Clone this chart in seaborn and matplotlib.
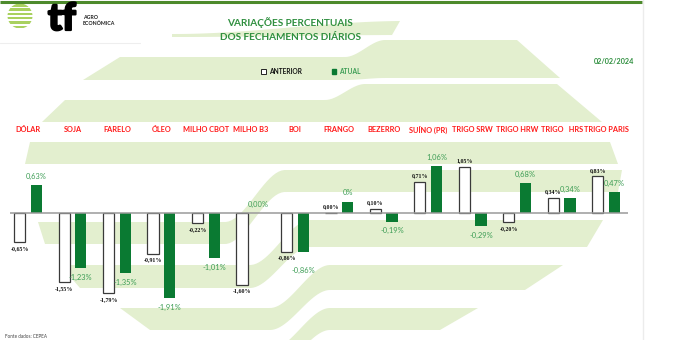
import numpy as np
import pandas as pd
import matplotlib
matplotlib.use("Agg")
import matplotlib.pyplot as plt
import matplotlib.transforms as mtransforms
import matplotlib.patheffects as pe
from matplotlib.patches import Patch, Circle, Polygon, Rectangle
import seaborn as sns

# ---------------- data ----------------
categories = ["DÓLAR", "SOJA", "FARELO", "ÓLEO", "MILHO CBOT", "MILHO B3", "BOI",
              "FRANGO", "BEZERRO", "SUÍNO (PR)", "TRIGO SRW", "TRIGO HRW",
              "TRIGO   HRS", "TRIGO PARIS"]
anterior = [-0.65, -1.55, -1.79, -0.91, -0.22, -1.60, -0.86,
            0.00, 0.10, 0.71, 1.05, -0.20, 0.34, 0.83]
atual = [0.63, -1.23, -1.35, -1.91, -1.01, 0.00, -0.86,
         0.26, -0.19, 1.06, -0.29, 0.68, 0.34, 0.47]
anterior_labels = ["-0,65%", "-1,55%", "-1,79%", "-0,91%", "-0,22%", "-1,60%", "-0,86%",
                   "0,00%", "0,10%", "0,71%", "1,05%", "-0,20%", "0,34%", "0,83%"]
atual_labels = ["0,63%", "-1,23%", "-1,35%", "-1,91%", "-1,01%", "0,00%", "-0,86%",
                "0%", "-0,19%", "1,06%", "-0,29%", "0,68%", "0,34%", "0,47%"]
series = ["ANTERIOR", "ATUAL"]
title_lines = ["VARIAÇÕES PERCENTUAIS", "DOS FECHAMENTOS DIÁRIOS"]
date_text = "02/02/2024"
source_text = "Fonte dados: CEPEA"

df = pd.DataFrame({
    "cat": categories * 2,
    "serie": [series[0]] * len(categories) + [series[1]] * len(categories),
    "val": anterior + atual,
})

# ---------------- style ----------------
sns.set_style("white")
plt.rcParams["font.family"] = ["Lato", "DejaVu Sans"]

W, H = 675, 340
fig = plt.figure(figsize=(W / 100, H / 100), dpi=100)
fig.patch.set_facecolor("white")

DARK = "#0a7a32"
LBLGREEN = "#3d9d55"
TITLEGREEN = "#2f8f3f"
BAND = "#e3efcf"

# extra label offsets (points) for labels that are pushed away to avoid overlap
atual_extra_offset = {6: 7.0}

# ---------------- decorative background (pixel coords) ----------------
bg = fig.add_axes([0, 0, 1, 1], zorder=0)
bg.set_xlim(0, W)
bg.set_ylim(H, 0)
bg.axis("off")


def smooth(x, xw, ww):
    t = np.clip((x - xw) / ww + 0.5, 0, 1)
    return t * t * (3 - 2 * t)


def band(yl, yr, xw, ww, xs_top, xs_bot, xe_top, xe_bot):
    xt = np.linspace(xs_top, xe_top, 200)
    xb = np.linspace(xe_bot, xs_bot, 200)
    yt = yl[0] + (yr[0] - yl[0]) * smooth(xt, xw, ww)
    yb = yl[1] + (yr[1] - yl[1]) * smooth(xb, xw, ww)
    pts = np.vstack([np.column_stack([xt, yt]), np.column_stack([xb, yb])])
    bg.add_patch(Polygon(pts, closed=True, facecolor=BAND, edgecolor="none"))


band((34, 37), (21, 35), 290, 230, 172, 172, 400, 392)
band((57, 80), (40, 78), 365, 40, 120, 83, 517, 560)
band((100, 122), (84, 122), 345, 40, 65, 42, 557, 602)
band((142, 164), (142, 164), 300, 40, 30, 25, 610, 618)
band((222, 244), (170, 192), 255, 60, 38, 45, 622, 618)
band((265, 288), (220, 247), 280, 60, 60, 80, 603, 587)
band((308, 330), (265, 290), 300, 60, 120, 150, 563, 525)
band((350, 372), (308, 330), 300, 60, 250, 280, 478, 440)

# top border and right edge
bg.plot([0, 642], [1.5, 1.5], color="#4d8a2c", lw=2.2, solid_capstyle="butt")
bg.plot([643, 643], [0, H], color="#ececec", lw=1)
bg.plot([0, 140], [43, 43], color="#eeeeee", lw=0.8)

# logo
circ = Circle((20, 16), 12.5, facecolor="none", edgecolor="none")
bg.add_patch(circ)
for k in range(6):
    y0 = 4 + k * 4.3
    r = Rectangle((6, y0), 30, 2.6, facecolor="#a9d15f", edgecolor="none")
    bg.add_patch(r)
    r.set_clip_path(circ)

fig.text(48 / W, 1 - 30 / H, "tf", fontsize=27, fontweight="black",
         color="black", va="baseline", ha="left",
         path_effects=[pe.withStroke(linewidth=1.6, foreground="black")])
fig.text(83 / W, 1 - 19 / H, "AGRO", fontsize=3.8, fontweight="bold",
         color="#222222", va="baseline", ha="left")
fig.text(83 / W, 1 - 25 / H, "ECONÔMICA", fontsize=3.8, fontweight="bold",
         color="#222222", va="baseline", ha="left")

# titles
fig.text(290 / W, 1 - 23 / H, title_lines[0], fontsize=7.2, fontweight="bold",
         color=TITLEGREEN, ha="center", va="center")
fig.text(290 / W, 1 - 37 / H, title_lines[1], fontsize=7.2, fontweight="bold",
         color=TITLEGREEN, ha="center", va="center")
fig.text(614 / W, 1 - 61 / H, date_text, fontsize=5.2, color=TITLEGREEN,
         ha="center", va="center", fontweight="bold")
fig.text(5 / W, 1 - 336 / H, source_text, fontsize=3.3, color="#444444",
         ha="left", va="center")

# ---------------- bars ----------------
ax = fig.add_axes([0, 0, 1, 1], zorder=1)
ax.patch.set_alpha(0)
sns.barplot(data=df, x="cat", y="val", hue="serie", order=categories,
            hue_order=series, palette={series[0]: "white", series[1]: DARK},
            width=0.75, gap=0.33, errorbar=None, ax=ax, legend=False,
            saturation=1)

for p in ax.patches:
    fc = p.get_facecolor()
    if fc[0] > 0.9:
        p.set_edgecolor("#3a3a3a")
        p.set_linewidth(0.9)
    else:
        p.set_edgecolor("none")

ax.set_xlim(-0.63, 14.55)
ax.set_ylim(-2.847, 4.793)
ax.axis("off")
ax.hlines(0, -0.41, 13.5, color="#9a9a9a", lw=1.1, zorder=3)

# data labels
for i in range(len(categories)):
    va_ = anterior[i]
    sgn = 1 if va_ >= 0 else -1
    ax.annotate(anterior_labels[i], (i - 0.1875, va_), xytext=(0, 4.5 * sgn),
                textcoords="offset points", ha="center", va="center",
                fontsize=4.2, fontweight="bold", color="#111111",
                family=["Liberation Serif", "DejaVu Serif"])
    vb = atual[i]
    sgn = 1 if vb >= 0 else -1
    off = 6.5 + atual_extra_offset.get(i, 0.0)
    ax.annotate(atual_labels[i], (i + 0.1875, vb), xytext=(0, off * sgn),
                textcoords="offset points", ha="center", va="center",
                fontsize=5.4, color=LBLGREEN)

# category labels
trans = mtransforms.blended_transform_factory(ax.transData, fig.transFigure)
for i, c in enumerate(categories):
    ax.text(i, 1 - 130 / H, c, transform=trans, ha="center", va="center",
            fontsize=5.3, fontweight="bold", color="#ff1a1a")

# legend
handles = [Patch(facecolor="white", edgecolor="#222222", linewidth=0.7, label=series[0]),
           Patch(facecolor=DARK, edgecolor=DARK, label=series[1])]
leg = fig.legend(handles=handles, loc="center", bbox_to_anchor=(311 / W, 1 - 71 / H),
                 ncol=2, frameon=False, handlelength=0.7,
                 handleheight=0.7, handletextpad=0.4, columnspacing=4.5,
                 prop={"weight": "bold", "size": 4.8})
leg.get_texts()[0].set_color("#111111")
leg.get_texts()[1].set_color(LBLGREEN)

fig.savefig("out.png", dpi=100, facecolor="white")
